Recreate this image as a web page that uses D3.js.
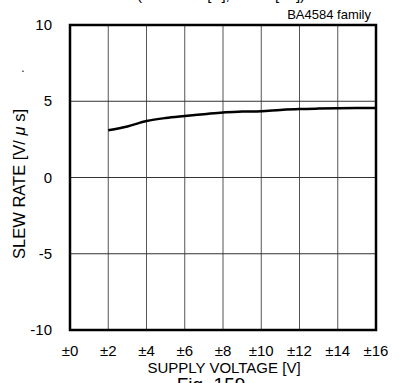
<!DOCTYPE html>
<html lang="en">
<head>
<meta charset="UTF-8">
<title>Slew rate vs supply voltage</title>
<style>
  body { margin: 0; padding: 0; background: #fff; }
  svg { display: block; font-family: "Liberation Sans", Arial, sans-serif; }
</style>
</head>
<body>
<script src="https://cdn.jsdelivr.net/npm/d3@7"></script>
<script>
  // data
  const supply = [2, 3, 4, 5, 6, 7, 8, 9, 10, 11, 12, 13, 14, 15, 16];
  const slew = [3.1, 3.35, 3.7, 3.9, 4.03, 4.15, 4.27, 4.32, 4.35, 4.43, 4.49, 4.52, 4.54, 4.55, 4.55];
  const xTicks = [0, 2, 4, 6, 8, 10, 12, 14, 16];
  const yTicks = [-10, -5, 0, 5, 10];

  const width = 404, height = 383;
  const plotL = 70, plotR = 376, plotT = 25, plotB = 330;

  const svg = d3.select('body').append('svg')
    .attr('width', width)
    .attr('height', height);

  const x = d3.scaleLinear().domain([0, 16]).range([plotL, plotR]);
  const y = d3.scaleLinear().domain([-10, 10]).range([plotB, plotT]);

  // grid
  svg.append('g').selectAll('line')
    .data(xTicks.slice(1, -1))
    .join('line')
    .attr('x1', d => x(d)).attr('x2', d => x(d))
    .attr('y1', plotT).attr('y2', plotB)
    .attr('stroke', '#555').attr('stroke-width', 1);

  svg.append('g').selectAll('line')
    .data(yTicks.slice(1, -1))
    .join('line')
    .attr('x1', plotL).attr('x2', plotR)
    .attr('y1', d => y(d)).attr('y2', d => y(d))
    .attr('stroke', '#333').attr('stroke-width', 1);

  // frame
  svg.append('rect')
    .attr('x', plotL).attr('y', plotT)
    .attr('width', plotR - plotL).attr('height', plotB - plotT)
    .attr('fill', 'none').attr('stroke', '#000').attr('stroke-width', 2.5);

  // tick labels
  svg.append('g').selectAll('text')
    .data(yTicks)
    .join('text')
    .attr('x', 52).attr('y', d => y(d) + 5)
    .attr('text-anchor', 'end')
    .attr('font-size', 15)
    .text(d => d);

  svg.append('g').selectAll('text')
    .data(xTicks)
    .join('text')
    .attr('x', d => x(d)).attr('y', 356)
    .attr('text-anchor', 'middle')
    .attr('font-size', 15)
    .text(d => '±' + d);

  // curve
  const line = d3.line()
    .x((d, i) => x(supply[i]))
    .y(d => y(d))
    .curve(d3.curveMonotoneX);

  svg.append('path')
    .datum(slew)
    .attr('d', line)
    .attr('fill', 'none')
    .attr('stroke', '#000')
    .attr('stroke-width', 2.5);

  // labels
  svg.append('text')
    .attr('x', 224).attr('y', 373)
    .attr('text-anchor', 'middle')
    .attr('font-size', 15)
    .text('SUPPLY VOLTAGE [V]');

  const yl = svg.append('text')
    .attr('transform', 'translate(25,184) rotate(-90)')
    .attr('text-anchor', 'middle')
    .attr('font-size', 16.5);
  yl.append('tspan').text('SLEW RATE [V/ ');
  yl.append('tspan').attr('font-style', 'italic').text('μ');
  yl.append('tspan').text(' s]');

  svg.append('text')
    .attr('x', 371).attr('y', 19)
    .attr('text-anchor', 'end')
    .attr('font-size', 13)
    .text('BA4584  family');

  svg.append('text')
    .attr('x', 23).attr('y', 72)
    .attr('text-anchor', 'middle')
    .attr('font-size', 12)
    .text('.');

  // clipped title and figure caption
  svg.append('text')
    .attr('x', 221).attr('y', 0)
    .attr('text-anchor', 'middle')
    .attr('font-size', 15)
    .text('(VCC=±15[V], Ta=25[°C])');

  svg.append('text')
    .attr('x', 211).attr('y', 391)
    .attr('text-anchor', 'middle')
    .attr('font-size', 19)
    .text('Fig. 159');
</script>
</body>
</html>
